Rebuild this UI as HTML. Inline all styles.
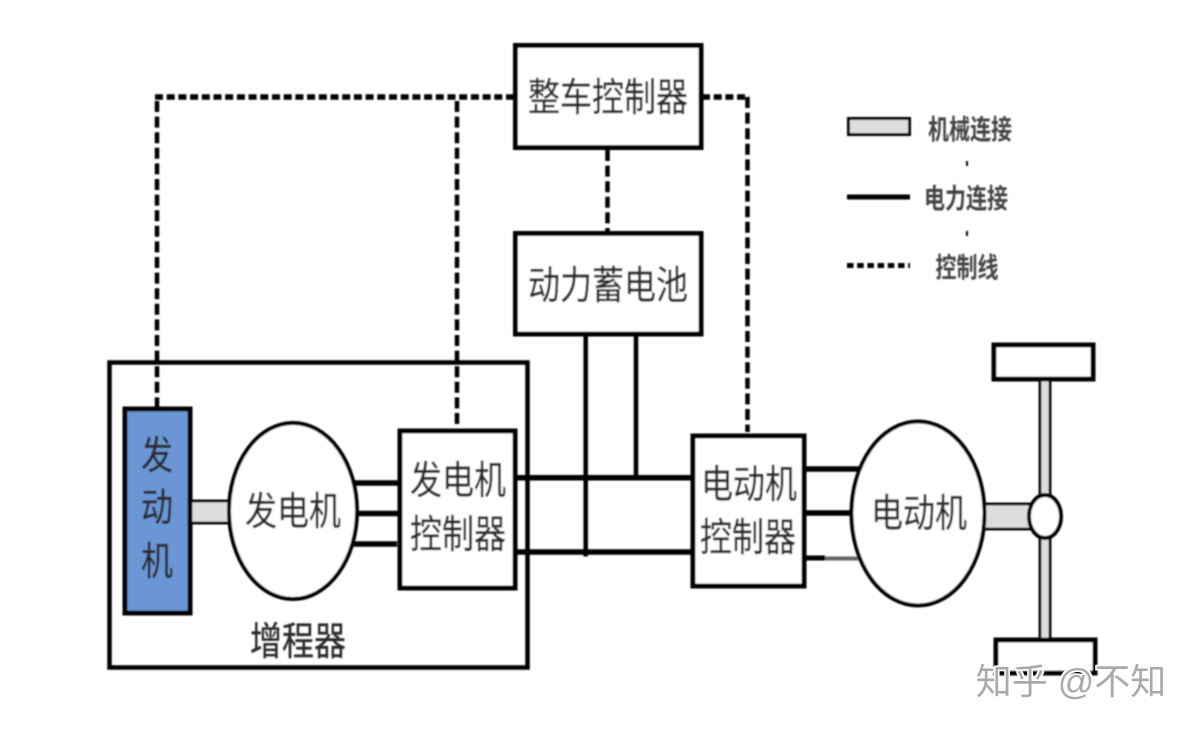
<!DOCTYPE html>
<html lang="zh">
<head>
<meta charset="utf-8">
<title>增程器系统结构图</title>
<style>
html,body{margin:0;padding:0;background:#fff;width:1195px;height:730px;overflow:hidden}
svg{display:block}
text{font-family:"Liberation Sans","Noto Sans CJK SC",sans-serif;fill:#2c2c2c;text-anchor:middle}
</style>
</head>
<body>
<svg width="1195" height="730" viewBox="0 0 1195 730" xmlns="http://www.w3.org/2000/svg">
<defs>
<filter id="b" x="-2%" y="-2%" width="104%" height="104%"><feGaussianBlur stdDeviation="0.7"/></filter>
<filter id="h" x="-5%" y="-20%" width="110%" height="140%"><feMorphology in="SourceAlpha" operator="dilate" radius="1.5" result="m"/><feFlood flood-color="#fff"/><feComposite in2="m" operator="in" result="w"/><feMerge><feMergeNode in="w"/><feMergeNode in="SourceGraphic"/></feMerge></filter>
</defs>
<rect width="1195" height="730" fill="#fff"/>
<g filter="url(#b)">
  <!-- control lines -->
  <g fill="none" stroke="#000" stroke-width="4.500">
    <path d="M155 97H515" stroke-width="5.500" stroke-dasharray="8 3.7"/>
    <path d="M702 97H749" stroke-width="5.500" stroke-dasharray="8 3.7"/>
    <path d="M157 101V407" stroke-dasharray="11 4.6"/>
    <path d="M457 101V429" stroke-dasharray="11 4.6"/>
    <path d="M747.500 97V432" stroke-dasharray="11 4.6"/>
    <path d="M607.500 150V231" stroke-dasharray="11 4.6"/>
  </g>

  <!-- range extender frame -->
  <rect x="109.500" y="362.500" width="418" height="305" fill="none" stroke="#000" stroke-width="4.500"/>

  <!-- power lines -->
  <g stroke="#000" fill="none">
    <path d="M585.700 334V556.500M636 334V477" stroke-width="4.500"/>
    <path d="M515 477.700H695M515 552H694" stroke-width="5.500"/>
    <path d="M355 483H398M358 513.500H398M352 544H397" stroke-width="5.500"/>
    <path d="M806 469H862M806 513H850" stroke-width="5.500"/>
    <path d="M806 558H825" stroke-width="5"/>
    <path d="M825 558.500H860" stroke="#666" stroke-width="4"/>
  </g>

  <!-- mechanical shafts -->
  <rect x="191" y="501" width="38" height="22" fill="#ddd" stroke="#000" stroke-width="2.800"/>
  <rect x="984" y="504" width="47" height="25" fill="#ddd" stroke="#000" stroke-width="2.800"/>
  <rect x="1040" y="379" width="10" height="260" fill="#ddd" stroke="#000" stroke-width="2.800"/>

  <!-- boxes -->
  <rect x="515.500" y="45.500" width="185.500" height="102" fill="#fff" stroke="#000" stroke-width="5"/>
  <rect x="515.500" y="233.500" width="185.500" height="100.500" fill="#fff" stroke="#000" stroke-width="5"/>
  <rect x="125" y="409" width="65" height="204" fill="#6a96d6" stroke="#000" stroke-width="5"/>
  <rect x="400" y="431" width="115" height="157" fill="#fff" stroke="#000" stroke-width="5"/>
  <rect x="693" y="436" width="111" height="150" fill="#fff" stroke="#000" stroke-width="5"/>
  <rect x="994" y="345" width="99" height="34" fill="#fff" stroke="#000" stroke-width="5"/>
  <rect x="996" y="640" width="99" height="33" fill="#fff" stroke="#000" stroke-width="5"/>

  <!-- ellipses -->
  <ellipse cx="293" cy="511" rx="64" ry="88" fill="#fff" stroke="#000" stroke-width="4"/>
  <ellipse cx="918" cy="513.500" rx="66.500" ry="92" fill="#fff" stroke="#000" stroke-width="4"/>
  <ellipse cx="1045" cy="516.500" rx="16" ry="21.500" fill="#fff" stroke="#000" stroke-width="4"/>

  <!-- labels -->
  <g font-size="32" stroke="#2c2c2c" stroke-width="0.300">
    <text transform="translate(608,111) scale(1,1.22)">整车控制器</text>
    <text transform="translate(608,299) scale(1,1.22)">动力蓄电池</text>
    <text transform="translate(157,469) scale(1,1.22)">发</text>
    <text transform="translate(157,521) scale(1,1.22)">动</text>
    <text transform="translate(157,575) scale(1,1.22)">机</text>
    <text transform="translate(293,525) scale(1,1.22)">发电机</text>
    <text transform="translate(458,494) scale(1,1.22)">发电机</text>
    <text transform="translate(458,548) scale(1,1.22)">控制器</text>
    <text transform="translate(298,655) scale(1,1.22)">增程器</text>
    <text transform="translate(749,498) scale(1,1.22)">电动机</text>
    <text transform="translate(748,551) scale(1,1.22)">控制器</text>
    <text transform="translate(919,527) scale(1,1.22)">电动机</text>
  </g>

  <!-- legend -->
  <rect x="848.500" y="118.500" width="61" height="16" fill="#ddd" stroke="#000" stroke-width="3"/>
  <path d="M847 197H910" stroke="#000" stroke-width="5"/>
  <path d="M847 265.500H910" stroke="#000" stroke-width="5" stroke-dasharray="6.500 3.700"/>
  <path d="M967 161V166M967 231V236" stroke="#000" stroke-width="2"/>
  <g font-size="21" font-weight="700">
    <text transform="translate(970,139) scale(1,1.3)" style="fill:#444">机械连接</text>
    <text transform="translate(966,208) scale(1,1.3)" style="fill:#444">电力连接</text>
    <text transform="translate(967,277) scale(1,1.3)" style="fill:#444">控制线</text>
  </g>
</g>

<!-- watermark -->
<text x="1071" y="694" font-size="36" filter="url(#h)" style="fill:#aaa">知乎 @不知</text>
</svg>
</body>
</html>
